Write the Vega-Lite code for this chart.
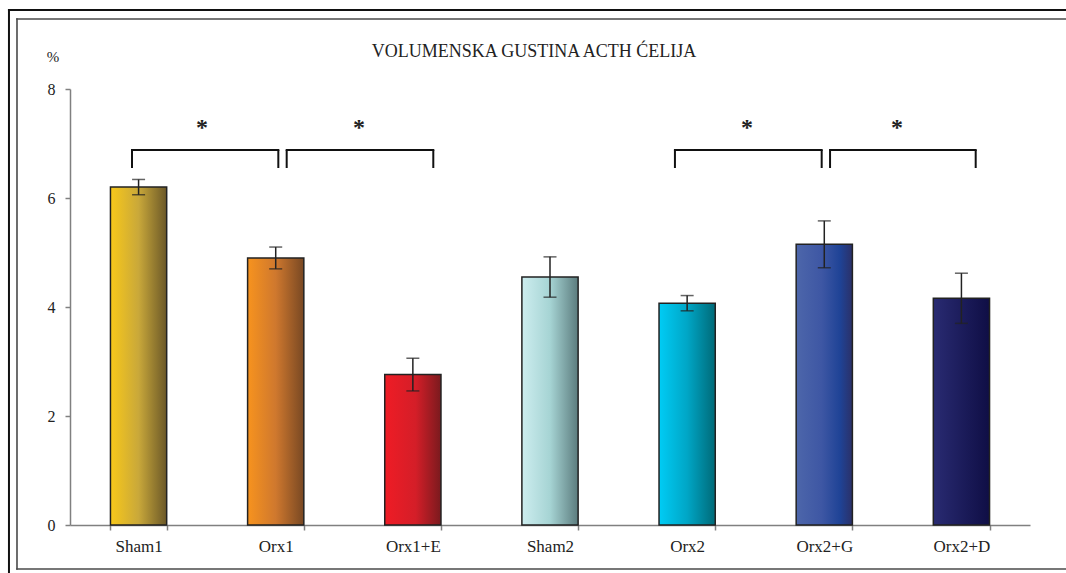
{
  "$schema": "https://vega.github.io/schema/vega-lite/v6.json",
  "width": 960,
  "height": 436,
  "autosize": {"type": "none"},
  "padding": {"left": 70, "top": 89, "right": 36, "bottom": 48},
  "background": "white",
  "config": {
    "view": {"stroke": null},
    "font": "Liberation Serif",
    "axis": {
      "domainColor": "#808080",
      "domainWidth": 1.5,
      "tickColor": "#808080",
      "tickWidth": 1.5,
      "tickSize": 5,
      "grid": false,
      "labelFont": "Liberation Serif",
      "labelFontSize": 16,
      "labelColor": "#222222",
      "title": null
    }
  },
  "datasets": {
    "bars": [
      {"group": "Sham1", "mean": 6.2, "err": 0.14},
      {"group": "Orx1", "mean": 4.9, "err": 0.2},
      {"group": "Orx1+E", "mean": 2.76, "err": 0.3},
      {"group": "Sham2", "mean": 4.55, "err": 0.37},
      {"group": "Orx2", "mean": 4.07, "err": 0.14},
      {"group": "Orx2+G", "mean": 5.15, "err": 0.43},
      {"group": "Orx2+D", "mean": 4.16, "err": 0.46}
    ],
    "brackets": [
      {"l": 0.452, "r": 1.519, "star": 0.963},
      {"l": 1.58, "r": 2.649, "star": 2.107},
      {"l": 4.411, "r": 5.481, "star": 4.937},
      {"l": 5.542, "r": 6.604, "star": 6.031}
    ],
    "one": [{"label": "VOLUMENSKA GUSTINA ACTH ĆELIJA", "unit": "%"}]
  },
  "layer": [
    {
      "data": {"name": "bars"},
      "encoding": {
        "x": {
          "field": "group",
          "type": "nominal",
          "sort": null,
          "scale": {"paddingInner": 0.59, "paddingOuter": 0.295},
          "axis": {"labelAngle": 0, "tickBand": "extent", "labelPadding": 8, "labelFontSize": 17, "title": null}
        }
      },
      "layer": [
        {
          "mark": {"type": "bar", "stroke": "#222222", "strokeWidth": 1.5},
          "encoding": {
            "y": {
              "field": "mean",
              "type": "quantitative",
              "scale": {"domain": [0, 8], "nice": false, "zero": true},
              "axis": {"values": [0, 2, 4, 6, 8], "labelPadding": 10, "title": null}
            },
            "fill": {
              "condition": [
                {"test": "datum.group === 'Sham1'", "value": {"gradient": "linear", "x1": 0, "x2": 1, "y1": 0, "y2": 0, "stops": [{"offset": 0, "color": "#F8C81A"}, {"offset": 0.5, "color": "#C9A83A"}, {"offset": 1, "color": "#6B5828"}]}},
                {"test": "datum.group === 'Orx1'", "value": {"gradient": "linear", "x1": 0, "x2": 1, "y1": 0, "y2": 0, "stops": [{"offset": 0, "color": "#F7931E"}, {"offset": 0.5, "color": "#CF782E"}, {"offset": 1, "color": "#784823"}]}},
                {"test": "datum.group === 'Orx1+E'", "value": {"gradient": "linear", "x1": 0, "x2": 1, "y1": 0, "y2": 0, "stops": [{"offset": 0, "color": "#EF1C25"}, {"offset": 0.55, "color": "#D41E28"}, {"offset": 1, "color": "#7A1A1E"}]}},
                {"test": "datum.group === 'Sham2'", "value": {"gradient": "linear", "x1": 0, "x2": 1, "y1": 0, "y2": 0, "stops": [{"offset": 0, "color": "#CDEDEF"}, {"offset": 0.5, "color": "#A6D4D4"}, {"offset": 1, "color": "#5C7C7E"}]}},
                {"test": "datum.group === 'Orx2'", "value": {"gradient": "linear", "x1": 0, "x2": 1, "y1": 0, "y2": 0, "stops": [{"offset": 0, "color": "#00CCF5"}, {"offset": 0.5, "color": "#00A6C6"}, {"offset": 1, "color": "#006A78"}]}},
                {"test": "datum.group === 'Orx2+G'", "value": {"gradient": "linear", "x1": 0, "x2": 1, "y1": 0, "y2": 0, "stops": [{"offset": 0, "color": "#4D66AA"}, {"offset": 0.45, "color": "#3E57A4"}, {"offset": 0.78, "color": "#1F4396"}, {"offset": 1, "color": "#2B3068"}]}}
              ],
              "value": {"gradient": "linear", "x1": 0, "x2": 1, "y1": 0, "y2": 0, "stops": [{"offset": 0, "color": "#292B72"}, {"offset": 1, "color": "#0F0E45"}]}
            }
          }
        },
        {
          "mark": {
            "type": "errorbar",
            "ticks": {"size": 13, "thickness": 1.5, "color": "#222222"},
            "rule": {"strokeWidth": 1.5, "color": "#222222"}
          },
          "encoding": {
            "y": {"field": "mean", "type": "quantitative", "title": null},
            "yError": {"field": "err"}
          }
        }
      ]
    },
    {
      "layer": [
        {
          "data": {"name": "one"},
          "mark": {"type": "rule", "color": "#111111", "strokeWidth": 2, "strokeCap": "square"},
          "encoding": {
            "x": {"datum": -0.445, "type": "quantitative", "scale": {"domain": [0, 7], "nice": false, "zero": false}, "axis": null},
            "x2": {"datum": 7.4},
            "y": {"datum": 9.45, "type": "quantitative"}
          }
        },
        {
          "data": {"name": "one"},
          "mark": {"type": "rule", "color": "#111111", "strokeWidth": 2, "strokeCap": "square"},
          "encoding": {
            "x": {"datum": -0.445, "type": "quantitative"},
            "y": {"datum": 9.45, "type": "quantitative"},
            "y2": {"datum": -0.95}
          }
        },
        {
          "data": {"name": "one"},
          "mark": {"type": "rule", "color": "#4a4a4a", "strokeWidth": 1.6, "strokeCap": "square"},
          "encoding": {
            "x": {"datum": -0.3865, "type": "quantitative"},
            "x2": {"datum": 7.4},
            "y": {"datum": 9.284, "type": "quantitative"}
          }
        },
        {
          "data": {"name": "one"},
          "mark": {"type": "rule", "color": "#4a4a4a", "strokeWidth": 1.6, "strokeCap": "square"},
          "encoding": {
            "x": {"datum": -0.3865, "type": "quantitative"},
            "x2": {"datum": 7.4},
            "y": {"datum": -0.807, "type": "quantitative"}
          }
        },
        {
          "data": {"name": "one"},
          "mark": {"type": "rule", "color": "#4a4a4a", "strokeWidth": 1.6, "strokeCap": "square"},
          "encoding": {
            "x": {"datum": -0.3865, "type": "quantitative"},
            "y": {"datum": 9.284, "type": "quantitative"},
            "y2": {"datum": -0.807}
          }
        },
        {
          "data": {"name": "one"},
          "mark": {"type": "text", "fontSize": 18, "color": "#222222", "baseline": "middle", "align": "center"},
          "encoding": {
            "x": {"datum": 3.383, "type": "quantitative"},
            "y": {"datum": 8.68, "type": "quantitative"},
            "text": {"field": "label"}
          }
        },
        {
          "data": {"name": "one"},
          "mark": {"type": "text", "fontSize": 15, "color": "#222222", "baseline": "middle", "align": "center"},
          "encoding": {
            "x": {"datum": -0.124, "type": "quantitative"},
            "y": {"datum": 8.587, "type": "quantitative"},
            "text": {"field": "unit"}
          }
        },
        {
          "data": {"name": "brackets"},
          "mark": {"type": "rule", "color": "#111111", "strokeWidth": 2, "strokeCap": "square"},
          "encoding": {
            "x": {"field": "l", "type": "quantitative"},
            "x2": {"field": "r"},
            "y": {"datum": 6.881, "type": "quantitative"}
          }
        },
        {
          "data": {"name": "brackets"},
          "mark": {"type": "rule", "color": "#111111", "strokeWidth": 2},
          "encoding": {
            "x": {"field": "l", "type": "quantitative"},
            "y": {"datum": 6.881, "type": "quantitative"},
            "y2": {"datum": 6.55}
          }
        },
        {
          "data": {"name": "brackets"},
          "mark": {"type": "rule", "color": "#111111", "strokeWidth": 2},
          "encoding": {
            "x": {"field": "r", "type": "quantitative"},
            "y": {"datum": 6.881, "type": "quantitative"},
            "y2": {"datum": 6.55}
          }
        },
        {
          "data": {"name": "brackets"},
          "mark": {"type": "text", "text": "*", "fontSize": 24, "fontWeight": "bold", "color": "#222222", "baseline": "middle", "align": "center", "dy": 5},
          "encoding": {
            "x": {"field": "star", "type": "quantitative"},
            "y": {"datum": 7.376, "type": "quantitative"}
          }
        }
      ]
    }
  ],
  "resolve": {"scale": {"x": "independent"}, "axis": {"x": "independent"}}
}
